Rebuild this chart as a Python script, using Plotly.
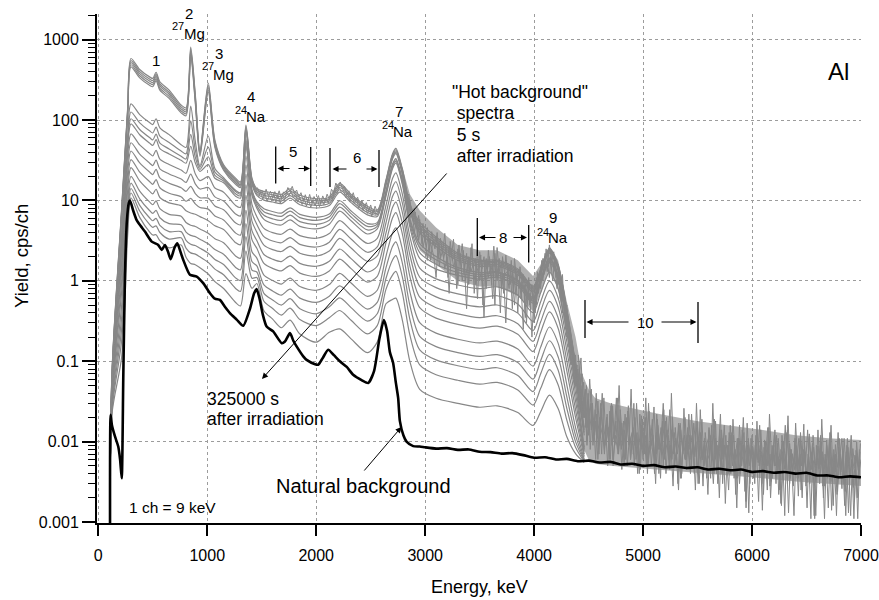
import numpy as np
import plotly.graph_objects as go

# ---------------------------------------------------------------- data
# Anchor energies (keV) shared by the smooth "hot background" spectra
E_ANCHOR = [105, 125, 215, 270, 300, 380, 470, 500, 530, 565, 650, 760, 805, 848, 890,
            933, 1009, 1070, 1150, 1260, 1305, 1355, 1410, 1455, 1520, 1600, 1680, 1760,
            1850, 2000, 2120, 2215, 2320, 2470, 2560, 2640, 2700, 2731, 2790, 2860, 2950,
            3100, 3300, 3500, 3660, 3850, 3990, 4060, 4140, 4220, 4300, 4380, 4460]

# earliest spectra (27Mg still strong)
A1 = [0.0005, 0.07, 8.3, 146, 584, 426, 345, 330, 394, 300, 236, 154, 142, 807, 210, 41.8, 288, 56.3, 27.8, 19, 17, 86.8, 19, 14, 13, 12.5, 11.9, 14, 11.6, 10.5, 11, 16.3, 11.9, 8.5, 7.6, 18, 38, 44.4, 25, 9.05, 5.37, 3.52, 2.21, 1.81, 1.81, 1.41, 0.856, 1.41, 2.56, 1.59, 0.446, 0.094, 0.02]
A2 = [0.0005, 0.068, 7.9, 139, 550, 401, 325, 311, 371, 282, 222, 146, 134, 756, 198, 40.2, 270, 53.5, 26.8, 18.3, 16.4, 82.8, 18.3, 13.4, 12.3, 11.8, 11.2, 13.2, 10.9, 9.89, 10.4, 15.4, 11.3, 8.02, 7.28, 17.4, 36.7, 42.8, 24.1, 8.61, 5.02, 3.31, 2.11, 1.74, 1.74, 1.36, 0.825, 1.37, 2.47, 1.54, 0.431, 0.091, 0.02]
A3 = [0.0005, 0.065, 7.56, 132, 519, 379, 306, 293, 350, 266, 210, 138, 127, 710, 187, 38.6, 254, 51, 25.8, 17.5, 15.8, 78.8, 17.6, 12.8, 11.6, 11.1, 10.5, 12.3, 10.2, 9.28, 9.83, 14.5, 10.7, 7.55, 6.96, 16.7, 35.4, 41.3, 23.2, 8.17, 4.68, 3.1, 2.0, 1.67, 1.67, 1.3, 0.792, 1.32, 2.38, 1.48, 0.416, 0.088, 0.02]
A4 = [0.0005, 0.062, 7.16, 125, 488, 356, 288, 276, 329, 250, 197, 130, 120, 664, 175, 37, 238, 48.3, 24.7, 16.7, 15.1, 74.8, 16.8, 12.2, 10.8, 10.3, 9.84, 11.5, 9.53, 8.68, 9.24, 13.6, 10, 7.09, 6.65, 16, 34.1, 39.8, 22.3, 7.73, 4.33, 2.89, 1.9, 1.58, 1.6, 1.25, 0.759, 1.27, 2.3, 1.43, 0.401, 0.085, 0.02]
A5 = [0.0005, 0.06, 6.81, 119, 460, 335, 271, 260, 310, 236, 186, 123, 113, 623, 165, 35.5, 224, 45.9, 23.8, 15.9, 14.5, 70.8, 16, 11.6, 10.1, 9.58, 9.14, 10.7, 8.85, 8.07, 8.64, 12.7, 9.41, 6.62, 6.33, 15.3, 32.7, 38.2, 21.4, 7.29, 3.98, 2.67, 1.79, 1.51, 1.53, 1.19, 0.726, 1.22, 2.21, 1.37, 0.386, 0.082, 0.02]
# second group
B1 = [0.0005, 0.055, 3.96, 64.5, 159, 117, 93.2, 88, 104, 80.3, 66, 49.5, 45.7, 149, 54.7, 27, 63.4, 25, 19.2, 13.4, 12.5, 58, 13.6, 9.7, 7.88, 7.29, 6.97, 8.11, 6.73, 6.18, 6.77, 9.93, 7.41, 5.16, 5.31, 13.1, 28.4, 33.2, 18.4, 5.89, 2.91, 2.01, 1.46, 1.27, 1.3, 1.02, 0.618, 1.06, 1.92, 1.19, 0.336, 0.072, 0.015]
B2 = [0.0005, 0.052, 3.61, 58, 126, 92.5, 73.6, 69.2, 81.9, 63.2, 52.7, 41.3, 38.1, 97.8, 42.6, 25.8, 46, 22.5, 18.4, 12.9, 12, 54.8, 13.1, 9.23, 7.26, 6.64, 6.35, 7.38, 6.13, 5.65, 6.26, 9.16, 6.87, 4.76, 5.07, 12.7, 27.4, 32.1, 17.8, 5.53, 2.59, 1.83, 1.38, 1.2, 1.26, 0.983, 0.594, 1.03, 1.86, 1.16, 0.326, 0.07, 0.014]
B3 = [0.0005, 0.05, 3.31, 52.8, 104, 76.5, 60.6, 56.7, 67, 51.8, 43.8, 35.6, 32.8, 66.5, 34.6, 24.4, 35, 20.5, 17.5, 12.1, 11.4, 50.8, 12.4, 8.64, 6.55, 5.91, 5.65, 6.56, 5.45, 5.05, 5.67, 8.27, 6.24, 4.3, 4.76, 12, 26.1, 30.6, 16.9, 5.09, 2.24, 1.61, 1.27, 1.13, 1.18, 0.93, 0.561, 0.982, 1.77, 1.1, 0.311, 0.067, 0.013]
B4 = [0.0005, 0.048, 3.07, 48.7, 89.7, 65.8, 51.9, 48.4, 57.1, 44.3, 37.9, 31.6, 29.1, 47.3, 29.4, 23, 27.9, 18.9, 16.6, 11.3, 10.7, 46.8, 11.6, 8.04, 5.83, 5.17, 4.96, 5.73, 4.77, 4.44, 5.07, 7.37, 5.6, 3.83, 4.44, 11.3, 24.8, 29.1, 16, 4.65, 1.9, 1.4, 1.17, 1.05, 1.11, 0.877, 0.528, 0.934, 1.69, 1.05, 0.296, 0.064, 0.012]
# later spectra (24Na decaying towards the natural background)
L1 = [0.0005, 0.045, 2.32, 37.2, 67.5, 49.1, 38.5, 35.8, 42, 32.7, 28, 23.9, 21.8, 31.5, 21.5, 17.7, 19.8, 14.3, 12.7, 8.69, 8.21, 35.6, 8.96, 6.29, 4.5, 3.98, 3.8, 4.4, 3.65, 3.39, 3.88, 5.62, 4.27, 2.92, 3.39, 8.67, 18.8, 22.1, 12.1, 3.53, 1.44, 1.06, 0.888, 0.799, 0.843, 0.667, 0.402, 0.71, 1.28, 0.798, 0.226, 0.05, 0.0085]
L2 = [0.0005, 0.042, 1.79, 29.1, 52.3, 37.7, 29.3, 27.2, 31.8, 24.8, 21.4, 18.5, 16.8, 21.3, 16.1, 13.9, 14.5, 11.1, 9.85, 6.79, 6.41, 27.6, 7.06, 5.04, 3.55, 3.13, 2.98, 3.45, 2.85, 2.64, 3.03, 4.37, 3.32, 2.27, 2.64, 6.77, 14.6, 17.1, 9.38, 2.73, 1.11, 0.824, 0.688, 0.619, 0.653, 0.517, 0.312, 0.55, 0.992, 0.618, 0.176, 0.04, 0.008]
L3 = [0.0005, 0.04, 1.38, 22.8, 41.3, 29.3, 22.6, 21, 24.4, 19.1, 16.4, 14.4, 13, 15, 12.2, 10.8, 10.7, 8.56, 7.65, 5.27, 4.97, 21.2, 5.54, 4.04, 2.79, 2.45, 2.32, 2.69, 2.21, 2.04, 2.35, 3.37, 2.56, 1.75, 2.04, 5.25, 11.2, 13.1, 7.18, 2.09, 0.854, 0.632, 0.528, 0.475, 0.501, 0.397, 0.24, 0.422, 0.76, 0.474, 0.136, 0.032, 0.0075]
L4 = [0.0005, 0.037, 1.01, 17.4, 32.3, 22.5, 17.2, 15.9, 18.2, 14.4, 12.3, 11.1, 9.78, 10.6, 9.09, 8.18, 7.81, 6.41, 5.73, 3.94, 3.71, 15.6, 4.21, 3.17, 2.13, 1.86, 1.74, 2.03, 1.65, 1.52, 1.75, 2.49, 1.89, 1.29, 1.52, 3.92, 8.2, 9.56, 5.25, 1.53, 0.627, 0.464, 0.388, 0.349, 0.368, 0.292, 0.177, 0.31, 0.557, 0.348, 0.101, 0.025, 0.007]
L5 = [0.0005, 0.034, 0.76, 13.5, 25.6, 17.5, 13.1, 12.1, 13.8, 10.9, 9.35, 8.6, 7.45, 7, 6.75, 6.3, 5.61, 4.85, 4.35, 2.99, 2.81, 11.6, 3.26, 2.54, 1.65, 1.43, 1.33, 1.55, 1.25, 1.14, 1.33, 1.87, 1.42, 0.966, 1.14, 2.97, 6.07, 7.06, 3.88, 1.13, 0.464, 0.344, 0.288, 0.259, 0.273, 0.217, 0.132, 0.23, 0.412, 0.258, 0.076, 0.02, 0.0065]
L6 = [0.0005, 0.031, 0.51, 9.75, 19.9, 13.1, 9.6, 8.85, 9.88, 7.9, 6.73, 6.35, 5.33, 4.93, 4.75, 4.43, 3.91, 3.35, 2.98, 2.04, 1.91, 7.55, 2.31, 1.92, 1.18, 1.01, 0.913, 1.08, 0.85, 0.765, 0.9, 1.24, 0.94, 0.641, 0.765, 2.02, 3.95, 4.56, 2.5, 0.731, 0.302, 0.224, 0.188, 0.169, 0.178, 0.142, 0.087, 0.15, 0.267, 0.168, 0.051, 0.015, 0.006]
L7 = [0.0005, 0.028, 0.36, 7.5, 16.4, 10.5, 7.5, 6.9, 7.55, 6.1, 5.15, 5, 4.05, 3.68, 3.55, 3.3, 2.89, 2.45, 2.15, 1.47, 1.37, 5.15, 1.74, 1.54, 0.89, 0.75, 0.665, 0.79, 0.61, 0.54, 0.645, 0.865, 0.655, 0.446, 0.54, 1.45, 2.67, 3.06, 1.68, 0.491, 0.204, 0.152, 0.128, 0.115, 0.121, 0.0965, 0.06, 0.102, 0.18, 0.114, 0.036, 0.012, 0.0058]
L8 = [0.0005, 0.026, 0.26, 6, 14.1, 8.7, 6.1, 5.6, 6, 4.9, 4.1, 4.1, 3.2, 2.85, 2.75, 2.55, 2.21, 1.85, 1.6, 1.09, 1.01, 3.55, 1.36, 1.29, 0.7, 0.58, 0.5, 0.6, 0.45, 0.39, 0.475, 0.615, 0.465, 0.316, 0.39, 1.07, 1.82, 2.06, 1.13, 0.331, 0.139, 0.104, 0.088, 0.079, 0.083, 0.0665, 0.042, 0.07, 0.122, 0.078, 0.026, 0.01, 0.0057]
L9 = [0.0005, 0.024, 0.185, 4.9, 12.4, 7.39, 5.05, 4.63, 4.84, 4, 3.31, 3.43, 2.56, 2.23, 2.15, 1.99, 1.7, 1.4, 1.19, 0.805, 0.74, 2.35, 1.08, 1.1, 0.558, 0.453, 0.376, 0.458, 0.33, 0.278, 0.348, 0.428, 0.323, 0.219, 0.278, 0.785, 1.18, 1.31, 0.713, 0.211, 0.09, 0.068, 0.058, 0.052, 0.0545, 0.044, 0.0285, 0.046, 0.0785, 0.051, 0.0185, 0.0085, 0.0056]
L10 = [0.0005, 0.022, 0.115, 3.8, 10.8, 6.16, 4.07, 3.72, 3.75, 3.16, 2.58, 2.8, 1.97, 1.65, 1.59, 1.46, 1.22, 0.98, 0.803, 0.539, 0.488, 1.23, 0.809, 0.928, 0.425, 0.334, 0.261, 0.325, 0.218, 0.173, 0.229, 0.253, 0.19, 0.128, 0.173, 0.519, 0.588, 0.61, 0.328, 0.099, 0.0448, 0.0347, 0.03, 0.0268, 0.0279, 0.023, 0.0159, 0.0236, 0.0379, 0.0258, 0.0115, 0.0071, 0.0055]

HOT_SPECTRA = [L10, L9, L8, L7, L6, L5, L4, L3, L2, L1, B4, B3, B2, B1, A5, A4, A3, A2, A1]

# statistical scatter of the early spectra (start keV, step keV, values)
Q1 = (1460, 20, [14.5, 12, 13.5, 11.2, 13.8, 11.5, 13, 10.8, 12.9, 11,
                 13.2, 10.5, 12.8, 12, 14.5, 13, 15, 12.2, 13.5, 11,
                 12.5, 10, 11.8, 9.6, 11.9, 9.3, 11.2, 9.8, 11.5, 9.2,
                 11.4, 9.7, 12, 10.3, 13.8, 12.5, 16.5, 14.2, 17, 14,
                 15, 11.8, 13.2, 10.6, 12.5, 9.8, 11, 8.6, 10, 8.2,
                 9.4, 7.5, 8.8, 6.9, 8.5, 7.2])
Q2 = (1470, 20, [11, 12.8, 10.4, 12, 9.8, 11.5, 10.1, 12.2, 9.5, 11.6,
                 9.3, 11.9, 10.2, 12.8, 11.4, 13.2, 10.8, 12.1, 9.6, 10.9,
                 8.9, 10.6, 8.5, 10.3, 8.2, 9.9, 8.6, 10.4, 8.4, 10.1,
                 8.9, 10.7, 9.3, 11.6, 10.5, 13.4, 12.2, 14.8, 12.6, 13.5,
                 10.9, 12.4, 9.8, 11.3, 9.1, 10.4, 8.1, 9.4, 7.5, 8.8,
                 6.9, 8, 6.4, 7.7, 6.6])
R1 = (2780, 20, [26, 18, 14, 9, 10, 6.5, 8, 4.5, 6.5, 3.8,
                 5.2, 3.0, 4.6, 2.4, 4.1, 2.8, 3.6, 1.9, 3.4, 2.2,
                 3.9, 1.6, 2.7, 2.0, 3.3, 1.2, 2.5, 1.7, 2.9, 1.3,
                 2.2, 0.9, 2.6, 1.5, 1.9, 0.6, 2.3, 1.4, 2.0, 0.8,
                 2.4, 1.2, 1.8, 0.5, 2.6, 1.3, 1.7, 0.7, 2.1, 1.1,
                 1.6, 0.45, 1.9, 1.0, 1.4, 0.6, 1.2, 0.35, 1.0, 0.5,
                 0.9, 0.3, 1.1, 0.7, 1.5, 1.0, 2.2, 1.3, 2.8, 1.8,
                 2.3, 1.1, 1.6, 0.6, 1.2, 0.35, 0.5, 0.15, 0.2, 0.06,
                 0.12, 0.04, 0.07, 0.02, 0.035])
R2 = (2790, 20, [22, 16, 11, 12, 7, 5.5, 7.2, 3.5, 5.8, 2.9,
                 4.4, 2.6, 3.8, 1.8, 3.2, 2.5, 4.0, 1.5, 2.8, 1.9,
                 2.6, 1.1, 3.1, 1.8, 2.2, 0.8, 2.8, 1.4, 2.4, 1.0,
                 1.8, 1.3, 2.9, 0.7, 1.6, 1.2, 2.1, 0.5, 1.8, 1.3,
                 2.0, 0.9, 2.7, 1.1, 1.5, 0.4, 2.0, 1.2, 1.3, 0.8,
                 1.8, 0.7, 1.3, 0.4, 1.5, 0.8, 0.9, 0.3, 1.1, 0.55,
                 0.7, 0.4, 1.3, 0.9, 1.8, 1.2, 2.5, 1.5, 2.0, 1.0,
                 1.9, 0.8, 1.3, 0.5, 0.8, 0.25, 0.35, 0.1, 0.15, 0.05,
                 0.09, 0.03, 0.05, 0.015])
R3 = (2800, 20, [20, 12, 9.5, 6, 7.5, 4, 5.5, 3.2, 4.8, 2.6,
                 3.6, 1.8, 3.3, 2.6, 2.0, 1.1, 3.0, 1.9, 2.4, 1.4,
                 2.0, 0.7, 2.4, 1.5, 1.8, 0.9, 2.2, 1.0, 1.6, 0.45,
                 2.0, 1.3, 1.6, 0.9, 2.4, 1.0, 1.5, 0.35, 1.9, 1.1,
                 1.5, 0.6, 2.2, 1.0, 1.9, 0.8, 1.2, 0.3, 1.6, 0.9,
                 1.3, 0.5, 1.2, 0.8, 0.9, 0.25, 0.9, 0.6, 0.7, 0.2,
                 0.8, 0.5, 1.2, 0.8, 1.9, 1.4, 1.8, 1.1, 2.4, 1.5,
                 1.5, 0.9, 1.1, 0.4, 0.6, 0.2, 0.3, 0.09, 0.14, 0.05,
                 0.08, 0.025, 0.045])
S1 = (4400, 20, [0.09, 0.04, 0.07, 0.02, 0.05, 0.012, 0.03, 0.009, 0.025, 0.011,
                 0.02, 0.007, 0.035, 0.01, 0.015, 0.006, 0.028, 0.009, 0.012, 0.05,
                 0.008, 0.018, 0.006, 0.024, 0.01, 0.013, 0.005, 0.03, 0.009, 0.014,
                 0.006, 0.02, 0.004, 0.016, 0.009, 0.027, 0.007, 0.012, 0.0035, 0.018,
                 0.008, 0.014, 0.005, 0.04, 0.007, 0.011, 0.003, 0.017, 0.009, 0.012,
                 0.0045, 0.022, 0.006, 0.01, 0.0025, 0.015, 0.007, 0.019, 0.005, 0.009,
                 0.011, 0.0035, 0.03, 0.006, 0.009, 0.002, 0.014, 0.0065, 0.012, 0.004,
                 0.016, 0.005, 0.008, 0.0015, 0.011, 0.006, 0.02, 0.004, 0.009, 0.003,
                 0.012, 0.0055, 0.008, 0.0018, 0.014, 0.005, 0.007, 0.0025, 0.022, 0.006,
                 0.009, 0.003, 0.011, 0.005, 0.0075, 0.0012, 0.013, 0.0045, 0.008, 0.0028,
                 0.017, 0.005, 0.007, 0.002, 0.01, 0.004, 0.0065, 0.0011, 0.012, 0.0048,
                 0.008, 0.003, 0.019, 0.0045, 0.006, 0.0015, 0.009, 0.004, 0.0065, 0.0022,
                 0.011, 0.0045, 0.007, 0.0012, 0.0085, 0.0035, 0.006, 0.0018, 0.01, 0.004,
                 0.006])
S2 = (4410, 20, [0.06, 0.11, 0.03, 0.045, 0.015, 0.06, 0.02, 0.014, 0.04, 0.008,
                 0.03, 0.012, 0.009, 0.022, 0.006, 0.03, 0.011, 0.018, 0.007, 0.025,
                 0.012, 0.006, 0.02, 0.009, 0.045, 0.007, 0.015, 0.004, 0.022, 0.008,
                 0.013, 0.005, 0.03, 0.008, 0.012, 0.005, 0.019, 0.01, 0.007, 0.025,
                 0.004, 0.012, 0.007, 0.02, 0.005, 0.009, 0.016, 0.0035, 0.011, 0.006,
                 0.015, 0.008, 0.012, 0.004, 0.03, 0.006, 0.01, 0.0028, 0.013, 0.007,
                 0.006, 0.016, 0.004, 0.01, 0.007, 0.022, 0.003, 0.009, 0.005, 0.013,
                 0.007, 0.012, 0.0022, 0.009, 0.004, 0.014, 0.006, 0.0095, 0.0013, 0.011,
                 0.004, 0.009, 0.006, 0.016, 0.003, 0.0085, 0.0045, 0.012, 0.002, 0.007,
                 0.014, 0.004, 0.006, 0.0016, 0.01, 0.005, 0.021, 0.0035, 0.007, 0.0045,
                 0.006, 0.011, 0.0025, 0.008, 0.0048, 0.014, 0.003, 0.0075, 0.0012, 0.009,
                 0.005, 0.012, 0.0028, 0.007, 0.004, 0.0105, 0.0014, 0.008, 0.0042, 0.013,
                 0.0038, 0.007, 0.0016, 0.009, 0.005, 0.012, 0.0027, 0.0065, 0.0011, 0.0075])
S3 = (4405, 20, [0.12, 0.05, 0.025, 0.035, 0.01, 0.022, 0.045, 0.01, 0.018, 0.006,
                 0.014, 0.04, 0.008, 0.016, 0.01, 0.02, 0.005, 0.014, 0.035, 0.009,
                 0.017, 0.005, 0.011, 0.028, 0.006, 0.012, 0.02, 0.008, 0.005, 0.016,
                 0.009, 0.035, 0.006, 0.01, 0.014, 0.004, 0.022, 0.008, 0.015, 0.005,
                 0.018, 0.009, 0.025, 0.006, 0.013, 0.008, 0.0025, 0.014, 0.007, 0.02,
                 0.007, 0.012, 0.005, 0.017, 0.0085, 0.004, 0.025, 0.006, 0.011, 0.0035,
                 0.014, 0.008, 0.005, 0.018, 0.003, 0.011, 0.006, 0.016, 0.0045, 0.009,
                 0.004, 0.019, 0.006, 0.011, 0.003, 0.008, 0.013, 0.0018, 0.01, 0.006,
                 0.0085, 0.003, 0.018, 0.005, 0.01, 0.004, 0.007, 0.015, 0.0028, 0.009,
                 0.005, 0.012, 0.0022, 0.008, 0.0055, 0.016, 0.003, 0.0095, 0.005, 0.0012,
                 0.009, 0.0035, 0.013, 0.005, 0.0075, 0.0015, 0.011, 0.0055, 0.0085, 0.0032,
                 0.014, 0.004, 0.0065, 0.0011, 0.009, 0.0052, 0.016, 0.0036, 0.007, 0.0024,
                 0.0065, 0.011, 0.003, 0.0075, 0.0013, 0.009, 0.0045, 0.0068, 0.002, 0.008])
S4 = (4415, 20, [0.08, 0.03, 0.055, 0.015, 0.04, 0.008, 0.03, 0.012, 0.022, 0.007,
                 0.026, 0.01, 0.016, 0.005, 0.024, 0.009, 0.013, 0.035, 0.007, 0.015,
                 0.009, 0.022, 0.005, 0.012, 0.008, 0.03, 0.006, 0.01, 0.0045, 0.019,
                 0.007, 0.013, 0.024, 0.005, 0.011, 0.003, 0.016, 0.008, 0.012, 0.006,
                 0.02, 0.006, 0.009, 0.0028, 0.015, 0.007, 0.011, 0.004, 0.026, 0.006,
                 0.009, 0.004, 0.013, 0.0065, 0.018, 0.003, 0.01, 0.005, 0.008, 0.0022,
                 0.012, 0.006, 0.019, 0.004, 0.008, 0.005, 0.011, 0.0017, 0.009, 0.005,
                 0.013, 0.0035, 0.007, 0.011, 0.0045, 0.009, 0.0024, 0.017, 0.005, 0.008,
                 0.0035, 0.012, 0.0055, 0.009, 0.0014, 0.0105, 0.005, 0.015, 0.0032, 0.007,
                 0.005, 0.0095, 0.0025, 0.012, 0.0045, 0.007, 0.0013, 0.008, 0.0042, 0.011,
                 0.0035, 0.008, 0.005, 0.0165, 0.0028, 0.007, 0.0045, 0.0095, 0.0011, 0.0075,
                 0.0046, 0.01, 0.002, 0.0068, 0.0035, 0.013, 0.0032, 0.0062, 0.0012, 0.0085,
                 0.0042, 0.0075, 0.0024, 0.011, 0.0036, 0.006, 0.0011, 0.0078, 0.0044, 0.0095])
S5 = (4425, 20, [0.05, 0.02, 0.035, 0.009, 0.025, 0.014, 0.018, 0.006, 0.032, 0.011,
                 0.015, 0.007, 0.02, 0.012, 0.028, 0.006, 0.012, 0.008, 0.018, 0.0045,
                 0.014, 0.01, 0.024, 0.006, 0.015, 0.009, 0.013, 0.004, 0.021, 0.008,
                 0.012, 0.005, 0.009, 0.019, 0.006, 0.013, 0.004, 0.01, 0.03, 0.007,
                 0.011, 0.0045, 0.014, 0.008, 0.006, 0.017, 0.0035, 0.009, 0.006, 0.012,
                 0.005, 0.022, 0.007, 0.01, 0.003, 0.013, 0.006, 0.009, 0.0045, 0.015,
                 0.007, 0.003, 0.011, 0.0055, 0.014, 0.004, 0.009, 0.0065, 0.0025, 0.012,
                 0.006, 0.008, 0.0035, 0.016, 0.005, 0.009, 0.0015, 0.011, 0.006, 0.0085,
                 0.004, 0.014, 0.0055, 0.0075, 0.0022, 0.01, 0.005, 0.007, 0.0035, 0.012,
                 0.0048, 0.0065, 0.0017, 0.0095, 0.0045, 0.014, 0.003, 0.0072, 0.0052, 0.0085,
                 0.0021, 0.0105, 0.0042, 0.0068, 0.0031, 0.0125, 0.0045, 0.0058, 0.0012, 0.0088,
                 0.0052, 0.0075, 0.0028, 0.0105, 0.0039, 0.0063, 0.0016, 0.0092, 0.0048, 0.007,
                 0.0026, 0.011, 0.0041, 0.0058, 0.0012, 0.0082, 0.0047, 0.0066, 0.0034])
SCATTER_TRACES = [Q1, Q2, R1, R2, R3, S1, S2, S3, S4, S5]

# envelope of the dense scatter at high energies
BAND_E = [2790, 2860, 2950, 3100, 3300, 3500, 3660, 3850, 3990, 4060, 4140, 4220, 4300,
          4380, 4440, 4500, 4560, 4700, 4900, 5150, 5500, 5770, 6100, 6400, 6700, 7000]
BAND_HI = [26, 12, 7.5, 4.6, 2.8, 2.4, 2.4, 1.8, 1.15, 1.6, 2.7, 1.8, 0.55,
           0.2, 0.07, 0.045, 0.035, 0.03, 0.026, 0.022, 0.018, 0.016, 0.014, 0.012, 0.011, 0.0105]
BAND_LO = [18, 5, 2.4, 1.6, 1.0, 0.85, 0.85, 0.65, 0.42, 0.7, 1.3, 0.8, 0.2,
           0.05, 0.009, 0.006, 0.0053, 0.005, 0.0047, 0.0044, 0.0041, 0.0038, 0.0035, 0.0032, 0.003, 0.0028]

# natural background spectrum
BLACK_E = [108, 113, 125, 153, 183, 200, 215, 229, 245, 262, 280, 291, 320, 352, 390, 428,
           490, 550, 582, 612, 640, 664, 700, 725, 750, 780, 841, 903, 963, 1025, 1070, 1116,
           1160, 1208, 1270, 1330, 1392, 1430, 1453, 1480, 1510, 1545, 1605, 1683, 1713, 1759,
           1790, 1820, 1881, 1912, 1990, 2018, 2060, 2110, 2160, 2217, 2280, 2339, 2420, 2477,
           2530, 2580, 2621, 2650, 2676, 2706, 2730, 2752, 2768, 2800, 2829, 2890, 2950, 3000,
           3100, 3200, 3300, 3400, 3500, 3600, 3700, 3800, 3900, 4000, 4100, 4200, 4300, 4400,
           4500, 4600, 4700, 4800, 4900, 5000, 5100, 5200, 5300, 5400, 5500, 5600, 5700, 5800,
           5900, 6000, 6100, 6200, 6300, 6400, 6500, 6600, 6700, 6800, 6900, 7000]
BLACK_V = [0.0004, 0.0216, 0.016, 0.0116, 0.0087, 0.006, 0.0035, 0.06, 1.2, 5.5, 9.3, 10.0, 7.5, 5.7, 4.8, 4.1,
           3.08, 2.8, 2.43, 2.8, 2.3, 1.86, 2.6, 2.94, 2.4, 1.82, 1.19, 1.13, 0.936, 0.703, 0.6, 0.58,
           0.48, 0.397, 0.33, 0.276, 0.45, 0.7, 0.789, 0.6, 0.38, 0.27, 0.235, 0.168, 0.176, 0.224,
           0.18, 0.153, 0.115, 0.104, 0.092, 0.0906, 0.11, 0.139, 0.12, 0.1, 0.085, 0.068, 0.058, 0.0536,
           0.075, 0.19, 0.325, 0.24, 0.13, 0.095, 0.055, 0.035, 0.018, 0.012, 0.01, 0.0088, 0.0087, 0.0085,
           0.0082, 0.0083, 0.0079, 0.008, 0.0075, 0.0074, 0.0071, 0.0072, 0.0068, 0.0063, 0.0064, 0.006, 0.0061, 0.0057,
           0.0058, 0.0055, 0.0056, 0.0052, 0.0053, 0.005, 0.0051, 0.0048, 0.0049, 0.0047, 0.0048, 0.0045, 0.0046, 0.0044,
           0.0045, 0.0042, 0.0043, 0.0041, 0.0042, 0.004, 0.0041, 0.0038, 0.0038, 0.0036, 0.0037, 0.0036]

X_TICKS = [0, 1000, 2000, 3000, 4000, 5000, 6000, 7000]
Y_TICKS = [0.001, 0.01, 0.1, 1, 10, 100, 1000]
Y_TICK_TEXT = ['0.001', '0.01', '0.1', '1', '10', '100', '1000']

for s in HOT_SPECTRA:
    assert len(s) == len(E_ANCHOR)
assert len(BLACK_E) == len(BLACK_V)
assert len(BAND_E) == len(BAND_HI) == len(BAND_LO)

# ---------------------------------------------------------------- figure
W, H = 879, 600
ML, MR, MT, MB = 97, 18, 14, 77
GRAY = '#878787'
FONT = 'Liberation Sans, Arial, Helvetica, sans-serif'


def px(x):
    return (x - ML) / (W - ML - MR)


def py(y):
    return 1 - (y - MT) / (H - MT - MB)


fig = go.Figure()

fig.add_trace(go.Scatter(
    x=BAND_E + BAND_E[::-1], y=BAND_HI + BAND_LO[::-1], mode='lines',
    fill='toself', fillcolor='rgba(128,128,128,0.62)', line=dict(width=0),
    hoverinfo='skip', showlegend=False))

for vals in HOT_SPECTRA:
    fig.add_trace(go.Scatter(
        x=E_ANCHOR, y=vals, mode='lines',
        line=dict(color=GRAY, width=1.2, shape='spline', smoothing=0.8),
        hoverinfo='skip', showlegend=False))

for start, step, vals in SCATTER_TRACES:
    e = start + step * np.arange(len(vals))
    fig.add_trace(go.Scatter(
        x=e, y=vals, mode='lines', line=dict(color=GRAY, width=1.0),
        hoverinfo='skip', showlegend=False))

fig.add_trace(go.Scatter(
    x=BLACK_E, y=BLACK_V, mode='lines',
    line=dict(color='black', width=2.6, shape='spline', smoothing=0.6),
    hoverinfo='skip', showlegend=False))


def label(text, x, y, size=15, xanchor='center', **kw):
    return dict(text=text, x=px(x), y=py(y), xref='paper', yref='paper',
                showarrow=False, font=dict(size=size, family=FONT, color='black'),
                xanchor=xanchor, yanchor='middle', **kw)


def arrow(hx, hy, tx, ty, width=1.1, size=1.1, head=2):
    return dict(text='', x=px(hx), y=py(hy), xref='paper', yref='paper',
                ax=tx - hx, ay=ty - hy, axref='pixel', ayref='pixel',
                showarrow=True, arrowhead=head, arrowsize=size, arrowwidth=width,
                arrowcolor='black')


ann = [
    # peak labels
    label('1', 155.5, 60.5),
    label('2', 188.5, 13), label('27', 178, 26, 11), label('Mg', 194, 33.5),
    label('3', 218.5, 53.5), label('27', 208, 66.5, 11), label('Mg', 223.5, 74),
    label('4', 250.5, 96), label('24', 241, 109.5, 11), label('Na', 256, 116.5),
    label('7', 398.5, 111.5), label('24', 388, 125, 11), label('Na', 402.5, 131.5),
    label('9', 553, 217.5), label('24', 543, 231.5, 11), label('Na', 558, 237),
    label('5', 293.3, 151), label('6', 356.7, 157),
    label('8', 503.3, 237.5), label('10', 645, 322.5),
    label('Al', 838, 72, 24),
    # descriptions
    label('"Hot background"', 450, 92, 17.5, 'left'),
    label('\u00a0spectra', 450, 113.5, 17.5, 'left'),
    label('\u00a05 s', 450, 135, 17.5, 'left'),
    label('\u00a0after irradiation', 450, 156, 17.5, 'left'),
    label('325000 s', 205, 398.5, 17.5, 'left'),
    label('after irradiation', 205, 418.5, 17.5, 'left'),
    label('Natural background', 274, 485.5, 20, 'left'),
    label('1 ch = 9 keV', 127, 507, 15.5, 'left'),
    label('Energy, keV', 479, 587, 18),
    label('Yield, cps/ch', 22, 256, 18.5, textangle=-90),
    # arrows
    arrow(262, 379, 448, 172, width=1.0, size=1.2),
    arrow(401.5, 427, 363, 472, width=1.0, size=1.2),
    arrow(277.5, 168.5, 291, 168.5), arrow(310, 168.5, 297, 168.5),
    arrow(332.5, 169, 348, 169), arrow(377.5, 169, 365, 169),
    arrow(479, 237.5, 497, 237.5), arrow(527, 237.5, 512, 237.5),
    arrow(586.5, 322, 630, 322), arrow(696.5, 322, 660, 322),
]

bars = [(275.7, 146.5, 183.5), (310.7, 147, 186), (330, 148, 187), (379, 150, 187),
        (477.3, 218, 256), (528.7, 225, 262.5), (585, 300, 338), (698, 302, 343)]
shapes = [dict(type='line', xref='paper', yref='paper', x0=px(x), x1=px(x),
               y0=py(y0), y1=py(y1), line=dict(color='black', width=1.3))
          for x, y0, y1 in bars]

minor_vals = [k * 10.0 ** p for p in range(-3, 3) for k in range(2, 10)] + [2000]

fig.update_layout(
    width=W, height=H,
    margin=dict(l=ML, r=MR, t=MT, b=MB, autoexpand=False),
    paper_bgcolor='white', plot_bgcolor='white',
    showlegend=False,
    font=dict(family=FONT, color='black', size=16),
    xaxis=dict(
        range=[-12, 7000], tickvals=X_TICKS, ticks='outside', ticklen=11, tickwidth=2,
        tickcolor='black', showline=True, linewidth=2, linecolor='black',
        showgrid=True, gridcolor='#9c9c9c', gridwidth=1, griddash='dot',
        zeroline=False, tickfont=dict(size=16), ticklabelstandoff=6),
    yaxis=dict(
        type='log', range=[-3.012, 3.32], tickvals=Y_TICKS, ticktext=Y_TICK_TEXT,
        ticks='outside', ticklen=13, tickwidth=2, tickcolor='black',
        showline=True, linewidth=2, linecolor='black',
        showgrid=True, gridcolor='#9c9c9c', gridwidth=1, griddash='dot',
        zeroline=False, tickfont=dict(size=16),
        minor=dict(tickvals=minor_vals, ticks='outside', ticklen=7, tickwidth=1.3,
                   tickcolor='black', showgrid=False)),
    annotations=ann, shapes=shapes,
)

fig.write_html('out.html')
